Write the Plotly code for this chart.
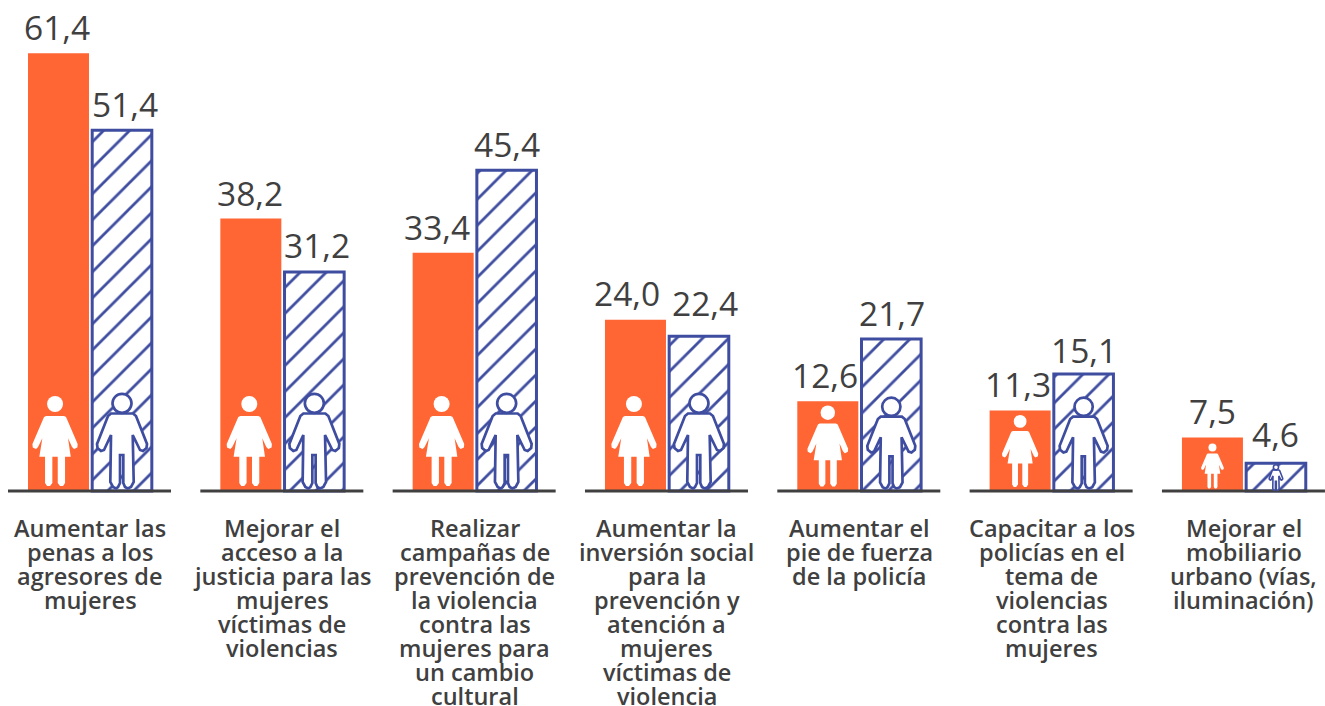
import plotly.graph_objects as go

categories = [
    ["Aumentar las", "penas a los", "agresores de", "mujeres"],
    ["Mejorar el", "acceso a la", "justicia para las", "mujeres", "víctimas de", "violencias"],
    ["Realizar", "campañas de", "prevención de", "la violencia", "contra las", "mujeres para", "un cambio", "cultural"],
    ["Aumentar la", "inversión social", "para la", "prevención y", "atención a", "mujeres", "víctimas de", "violencia"],
    ["Aumentar el", "pie de fuerza", "de la policía"],
    ["Capacitar a los", "policías en el", "tema de", "violencias", "contra las", "mujeres"],
    ["Mejorar el", "mobiliario", "urbano (vías,", "iluminación)"],
]
mujeres = [61.4, 38.2, 33.4, 24.0, 12.6, 11.3, 7.5]
hombres = [51.4, 31.2, 45.4, 22.4, 21.7, 15.1, 4.6]
# drawn bar lengths (the men's bars do not follow their labels exactly)
hombres_barra = [50.6, 30.7, 45.0, 21.7, 21.3, 16.4, 3.9]
escala_mujer = [1, 1, 1, 1, 0.9, 0.8, 0.5]
escala_hombre = [1, 1, 1, 1, 0.96, 0.96, 0.27]
ajuste_mujer = [-0.018, -0.008, -0.008, -0.008, 0, 0, 0]
# label placement relative to its bar top, in pixels
dx_mujer = [-1.5, -1, -6.5, -8.5, -2.5, -2, 0]
dx_hombre = [2.5, 2.5, 0.5, 6, 0.5, 0.5, 0]
dy_mujer = [26, 26, 26, 26.5, 26.5, 26.5, 26.5]
dy_hombre = [26.5, 27.5, 26.5, 33.5, 26.5, 24.5, 29.5]

ORANGE = "#FF6633"
BLUE = "#3F4DA0"
DARK = "#404040"
FONT = "Open Sans"
BAR_W = 0.3172
BAR_W_H = 0.31
OFFS = 0.1664
OFFS_H = 0.1638


def poly(pts):
    return "M" + " L".join(f"{x:.2f},{y:.2f}" for x, y in pts) + " Z"


def scale(pts, s):
    return [(x * s, y * s) for x, y in pts]


WOMAN = [(-9, 75), (9, 75), (11, 74), (22.6, 47), (22.3, 43.5), (19, 42), (17, 44),
         (13, 52.7), (15.7, 34.3), (10, 34.3), (10, 8), (8, 5), (5, 5), (2.7, 8),
         (2.7, 34.3), (-2.7, 34.3), (-2.7, 8), (-5, 5), (-8, 5), (-10, 8), (-10, 34.3),
         (-15.7, 34.3), (-12.7, 52.7), (-17, 44), (-19, 42), (-22.3, 43.5), (-22.6, 47),
         (-11, 74)]
MAN = [(-11, 77.5), (11, 77.5), (14, 75), (25, 47), (24.5, 43), (21, 40), (18, 41),
       (10.7, 56), (11.7, 9), (9, 4), (5.7, 2.5), (3, 4), (1.3, 8), (1.3, 36), (-2, 36),
       (-2, 8), (-4, 4), (-6, 2.5), (-9, 4), (-11.7, 9), (-11, 56), (-18, 41), (-21, 40),
       (-24.5, 43), (-25, 47), (-14, 75)]


def icon_shapes(x, s, kind):
    common = dict(xref="x", yref="y", xsizemode="pixel", ysizemode="pixel",
                  xanchor=x, yanchor=0, layer="above")
    if kind == "woman":
        line = dict(width=0)
        cy, r, outline = 87, 8, WOMAN
    else:
        line = dict(color=BLUE, width=2.7 if s > 0.5 else 1.6)
        cy, r, outline = 87.7, 9.5, MAN
    return [
        dict(type="path", path=poly(scale(outline, s)), fillcolor="white", line=line, **common),
        dict(type="circle", x0=-r * s, x1=r * s, y0=(cy - r) * s, y1=(cy + r) * s,
             fillcolor="white", line=line, **common),
    ]


def etiqueta(v):
    return f"{v:.1f}".replace(".", ",")


def nota(x, y, v, dx, dy):
    return dict(x=x, y=y, xref="x", yref="y", text=etiqueta(v), showarrow=False,
                xanchor="center", yanchor="middle", xshift=dx, yshift=dy,
                font=dict(family=FONT, size=33.5, color=DARK))


idx = list(range(len(categories)))
fig = go.Figure()
fig.add_bar(x=idx, y=mujeres, width=BAR_W, offset=-OFFS - BAR_W / 2,
            marker=dict(color=ORANGE, line=dict(width=0)), name="Mujeres")
fig.add_bar(x=idx, y=hombres_barra, width=BAR_W_H, offset=OFFS_H - BAR_W_H / 2,
            marker=dict(color="white", line=dict(color=BLUE, width=3),
                        pattern=dict(shape="/", size=18.4, solidity=0.15, fgcolor=BLUE,
                                     bgcolor="white", fgopacity=1)),
            name="Hombres")

base_x, base_y = [], []
for i in idx:
    base_x += [i - 0.429, i + 0.4186, None]
    base_y += [0, 0, None]
fig.add_scatter(x=base_x, y=base_y, mode="lines", line=dict(color=DARK, width=3),
                cliponaxis=False, hoverinfo="skip")

shapes = []
annotations = []
for i in idx:
    shapes += icon_shapes(i - OFFS + ajuste_mujer[i], escala_mujer[i], "woman")
    shapes += icon_shapes(i + OFFS_H, escala_hombre[i], "man")
    annotations.append(nota(i - OFFS, mujeres[i], mujeres[i], dx_mujer[i], dy_mujer[i]))
    annotations.append(nota(i + OFFS_H, hombres_barra[i], hombres[i], dx_hombre[i], dy_hombre[i]))
    for k, linea in enumerate(categories[i]):
        annotations.append(dict(x=i, y=0, xref="x", yref="y", text=linea, showarrow=False,
                                xanchor="center", yanchor="middle", xshift=-0.5,
                                yshift=-(37 + 24 * k),
                                font=dict(family=FONT, size=23.5, color=DARK, weight=600)))

fig.update_layout(
    width=1325, height=706, margin=dict(l=0, r=0, t=0, b=205, pad=0),
    paper_bgcolor="white", plot_bgcolor="white", showlegend=False,
    font=dict(family=FONT, color=DARK), shapes=shapes, annotations=annotations,
    xaxis=dict(range=[-0.4706, 6.4188], tickvals=[], showticklabels=False,
               showgrid=False, zeroline=False, showline=False, ticks=""),
    yaxis=dict(range=[-1.4025, 68.86], visible=False, fixedrange=True),
)
fig.write_html("out.html", config=dict(displayModeBar=False),
               post_script="document.body.style.margin='0';")
